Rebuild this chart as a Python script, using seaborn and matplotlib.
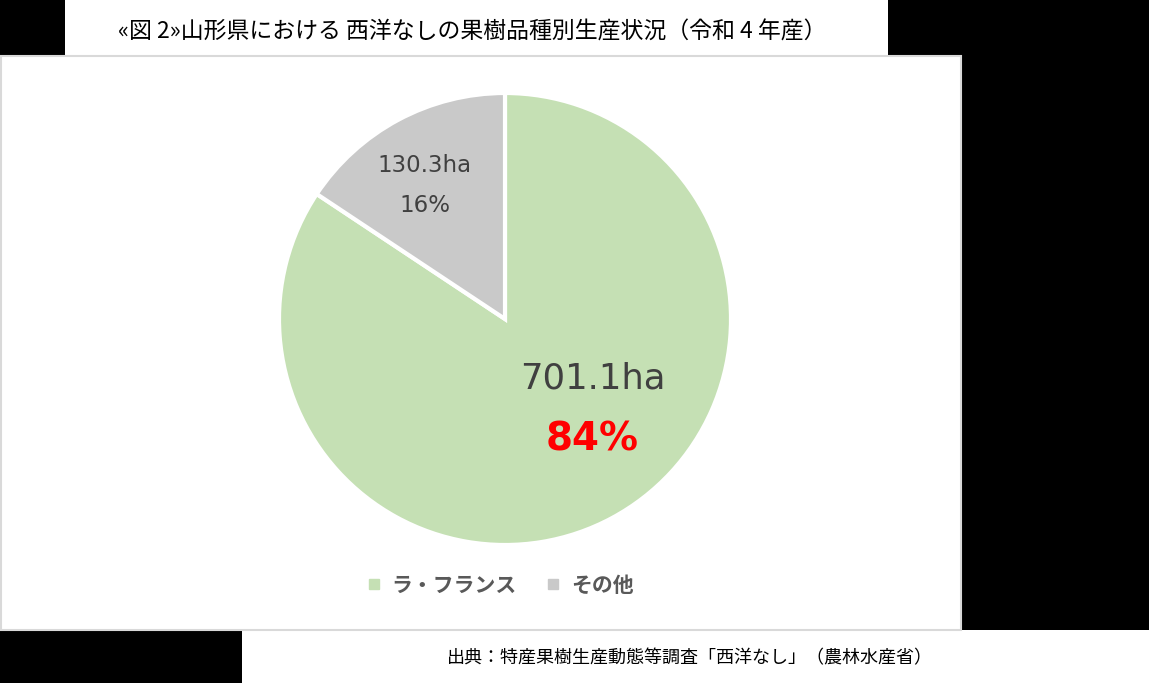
import numpy as np
import seaborn as sns
from matplotlib import pyplot as plt
from matplotlib.patches import Rectangle
from matplotlib.lines import Line2D

# data
categories = ["ラ・フランス", "その他"]
areas = [701.1, 130.3]
pct_labels = ["84%", "16%"]
area_labels = ["701.1ha", "130.3ha"]
colors = ["#c5e0b4", "#c9c9c9"]

title = "«図 2»山形県における 西洋なしの果樹品種別生産状況（令和 4 年産）"
source = "出典：特産果樹生産動態等調査「西洋なし」（農林水産省）"

sns.set_style("white")
plt.rcParams["font.family"] = ["Noto Sans CJK JP", "DejaVu Sans"]

W, H = 1149, 683
fig = plt.figure(figsize=(W / 100, H / 100), dpi=100, facecolor="black")


def box(x0, y0, x1, y1, **kw):
    # pixel box (top-left origin) -> figure fraction
    fig.patches.append(Rectangle((x0 / W, 1 - y1 / H), (x1 - x0) / W, (y1 - y0) / H,
                                 transform=fig.transFigure, figure=fig, zorder=-5, **kw))


box(65, 0, 888, 56, facecolor="white", edgecolor="none")
box(242, 630, W, H, facecolor="white", edgecolor="none")
box(1, 56, 961, 630, facecolor="white", edgecolor="#d9d9d9", linewidth=1.5)

# pie axes
cx, cy, r = 505, 319, 226
ax = fig.add_axes([(cx - r) / W, 1 - (cy + r) / H, 2 * r / W, 2 * r / H])
ax.patch.set_visible(False)
wedges, _ = ax.pie(areas, colors=colors, startangle=90, counterclock=False,
                   wedgeprops=dict(edgecolor="white", linewidth=3))
ax.set_xlim(-1, 1)
ax.set_ylim(-1, 1)
ax.set_aspect("auto")
ax.axis("off")

# labels
ax.text(0.39, -0.265, area_labels[0], ha="center", va="center", fontsize=25.5,
        color="#404040", family="DejaVu Sans")
ax.text(0.385, -0.535, pct_labels[0], ha="center", va="center", fontsize=28,
        color="#ff0000", fontweight="bold", family="DejaVu Sans")
ax.text(-0.355, 0.68, area_labels[1], ha="center", va="center", fontsize=16.5,
        color="#404040", family="DejaVu Sans")
ax.text(-0.355, 0.50, pct_labels[1], ha="center", va="center", fontsize=16.5,
        color="#404040", family="DejaVu Sans")

# legend
handles = [Line2D([], [], marker="s", linestyle="none", markersize=7,
                  markerfacecolor=c, markeredgecolor=c) for c in colors]
fig.legend(handles, categories, loc="center", bbox_to_anchor=(500 / W, 1 - 585 / H),
           ncol=2, frameon=False, handlelength=0.7, handletextpad=0.5,
           columnspacing=1.4, labelcolor="#595959",
           prop=dict(family="Noto Sans CJK JP", weight="bold", size=15))

fig.text(472 / W, 1 - 32 / H, title, ha="center", va="center", fontsize=16.5, color="black")
fig.text(690 / W, 1 - 658 / H, source, ha="center", va="center", fontsize=13, color="black")

fig.savefig("out.png", dpi=100, facecolor=fig.get_facecolor())
